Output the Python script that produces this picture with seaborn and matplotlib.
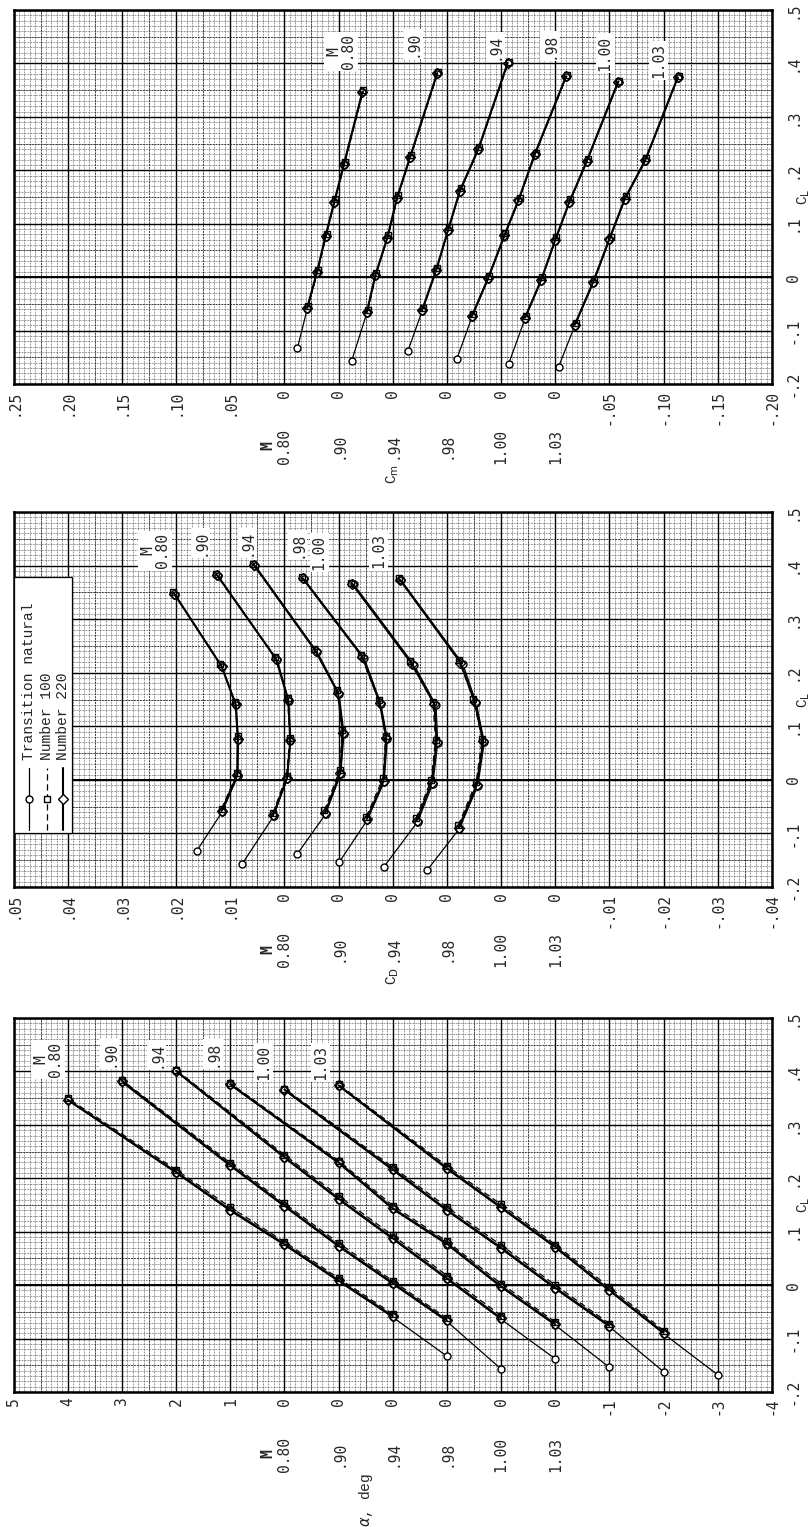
"""
Lift, drag and pitching-moment curves for six Mach numbers and three
transition-strip settings. The sheet is drawn turned on its side, the way
the scanned report page shows it: the value axes run across the page and
C_L runs up the page.
"""

import matplotlib
matplotlib.use("Agg")
import matplotlib.pyplot as plt
from matplotlib.patches import Rectangle
import pandas as pd
import seaborn as sns

MACH_LABELS = ["0.80", ".90", ".94", ".98", "1.00", "1.03"]
ALPHA_NATURAL = [-3, -2, -1, 0, 1, 2, 4]
ALPHA_FIXED = [-2, -1, 0, 1, 2, 4]

# C_L, one row per Mach number
CL_NATURAL = [
    [-0.133, -0.060, 0.007, 0.075, 0.139, 0.210, 0.346],
    [-0.157, -0.068, 0.002, 0.072, 0.147, 0.223, 0.380],
    [-0.138, -0.064, 0.011, 0.086, 0.160, 0.238, 0.400],
    [-0.154, -0.075, -0.004, 0.076, 0.142, 0.228, 0.375],
    [-0.162, -0.078, -0.007, 0.068, 0.139, 0.215, 0.365],
    [-0.168, -0.091, -0.011, 0.070, 0.144, 0.217, 0.373],
]
CL_100 = [
    [-0.054, 0.013, 0.081, 0.146, 0.216, 0.350],
    [-0.062, 0.008, 0.079, 0.153, 0.229, 0.384],
    [-0.057, 0.018, 0.093, 0.167, 0.244, 0.403],
    [-0.069, 0.003, 0.082, 0.149, 0.233, 0.378],
    [-0.072, 0.000, 0.075, 0.146, 0.221, 0.368],
    [-0.085, -0.004, 0.076, 0.151, 0.223, 0.376],
]
CL_220 = [
    [-0.058, 0.009, 0.077, 0.141, 0.212, 0.347],
    [-0.066, 0.004, 0.074, 0.149, 0.225, 0.382],
    [-0.062, 0.013, 0.088, 0.162, 0.240, 0.401],
    [-0.073, -0.002, 0.078, 0.144, 0.230, 0.376],
    [-0.076, -0.005, 0.070, 0.141, 0.217, 0.366],
    [-0.089, -0.009, 0.072, 0.146, 0.219, 0.374],
]

# C_D
CD_NATURAL = [
    [0.0162, 0.0115, 0.0086, 0.0085, 0.0089, 0.0115, 0.0202],
    [0.0178, 0.0120, 0.0095, 0.0089, 0.0092, 0.0113, 0.0222],
    [0.0176, 0.0124, 0.0096, 0.0090, 0.0099, 0.0139, 0.0254],
    [0.0199, 0.0147, 0.0116, 0.0110, 0.0122, 0.0153, 0.0264],
    [0.0216, 0.0154, 0.0126, 0.0117, 0.0120, 0.0161, 0.0272],
    [0.0236, 0.0177, 0.0143, 0.0131, 0.0146, 0.0171, 0.0285],
]
CD_100 = [
    [0.0116, 0.0087, 0.0086, 0.0091, 0.0118, 0.0205],
    [0.0121, 0.0096, 0.0090, 0.0094, 0.0117, 0.0226],
    [0.0126, 0.0098, 0.0093, 0.0103, 0.0145, 0.0258],
    [0.0149, 0.0118, 0.0113, 0.0126, 0.0159, 0.0268],
    [0.0157, 0.0129, 0.0121, 0.0126, 0.0168, 0.0277],
    [0.0179, 0.0146, 0.0135, 0.0151, 0.0178, 0.0289],
]
CD_220 = [
    [0.0116, 0.0087, 0.0086, 0.0090, 0.0116, 0.0203],
    [0.0121, 0.0095, 0.0089, 0.0093, 0.0115, 0.0224],
    [0.0125, 0.0097, 0.0092, 0.0101, 0.0142, 0.0256],
    [0.0148, 0.0117, 0.0112, 0.0124, 0.0156, 0.0266],
    [0.0156, 0.0128, 0.0119, 0.0123, 0.0165, 0.0275],
    [0.0178, 0.0145, 0.0133, 0.0149, 0.0175, 0.0287],
]

# C_m
CM_NATURAL = [
    [-0.012, -0.021, -0.030, -0.038, -0.046, -0.055, -0.072],
    [-0.012, -0.026, -0.034, -0.045, -0.054, -0.066, -0.091],
    [-0.014, -0.027, -0.040, -0.051, -0.062, -0.079, -0.106],
    [-0.009, -0.023, -0.038, -0.053, -0.066, -0.081, -0.110],
    [-0.007, -0.022, -0.037, -0.050, -0.063, -0.079, -0.108],
    [-0.003, -0.018, -0.035, -0.050, -0.064, -0.083, -0.113],
]
CM_100 = [
    [-0.022, -0.031, -0.039, -0.047, -0.056, -0.073],
    [-0.027, -0.035, -0.046, -0.055, -0.067, -0.092],
    [-0.028, -0.041, -0.052, -0.063, -0.080, -0.107],
    [-0.024, -0.039, -0.054, -0.067, -0.082, -0.111],
    [-0.023, -0.038, -0.051, -0.064, -0.080, -0.109],
    [-0.019, -0.036, -0.051, -0.065, -0.084, -0.114],
]
CM_220 = [
    [-0.021, -0.030, -0.038, -0.046, -0.055, -0.072],
    [-0.026, -0.034, -0.045, -0.054, -0.066, -0.091],
    [-0.027, -0.040, -0.051, -0.062, -0.079, -0.106],
    [-0.023, -0.038, -0.053, -0.066, -0.081, -0.110],
    [-0.022, -0.037, -0.050, -0.063, -0.079, -0.108],
    [-0.018, -0.035, -0.050, -0.064, -0.083, -0.113],
]

ALPHA_TICKS = ["5", "4", "3", "2", "1", "0", "0", "0", "0", "0", "0", "-1", "-2", "-3", "-4"]
CD_TICKS = [".05", ".04", ".03", ".02", ".01", "0", "0", "0", "0", "0", "0",
            "-.01", "-.02", "-.03", "-.04"]
CM_TICKS = [".25", ".20", ".15", ".10", ".05", "0", "0", "0", "0", "0", "0",
            "-.05", "-.10", "-.15", "-.20"]
CL_TICKS = [-0.2, -0.1, 0.0, 0.1, 0.2, 0.3, 0.4, 0.5]
CL_TICK_LABELS = ["-.2", "-.1", "0", ".1", ".2", ".3", ".4", ".5"]

NUM_FONT = "DejaVu Sans Mono"
TYPE_FONT = "Liberation Mono"
FS = 10.5

STYLES = {
    "natural": dict(marker="o", linestyle="-", linewidth=0.9, face="white"),
    "100": dict(marker="s", linestyle=(0, (5, 3)), linewidth=0.9, face="none"),
    "220": dict(marker="D", linestyle="-", linewidth=1.5, face="none"),
}


def long_table(value_sets, step):
    """Flatten the per-Mach lists into one table with offset plot coordinates."""
    rows = []
    for series, alphas, cls, vals in value_sets:
        for k in range(len(MACH_LABELS)):
            for i, a in enumerate(alphas):
                rows.append({"series": series, "mach": k, "alpha": a,
                             "cl": cls[k][i], "value": vals[k][i],
                             "x": vals[k][i] - k * step})
    return pd.DataFrame(rows)


def setup_axes(ax, step, tick_labels):
    ticks = [step * (5 - i) for i in range(15)]
    minor = [step * (5 - i / 10) for i in range(141)]
    ax.set_xlim(ticks[0], ticks[-1])
    ax.set_ylim(-0.2, 0.5)
    ax.set_xticks(ticks)
    ax.set_xticks(minor, minor=True)
    ax.set_xticklabels(tick_labels, family=NUM_FONT, fontsize=FS)
    ax.set_yticks(CL_TICKS)
    ax.set_yticks([-0.2 + i * 0.01 for i in range(71)], minor=True)
    ax.yaxis.tick_right()
    ax.set_yticklabels(CL_TICK_LABELS, family=NUM_FONT, fontsize=FS)
    ax.tick_params(axis="x", which="major", labelrotation=90, pad=4, length=0)
    ax.tick_params(axis="y", which="major", labelrotation=90, pad=10, length=0)
    ax.tick_params(which="minor", length=0)
    for lab in ax.get_yticklabels():
        lab.set_va("center")
    ax.grid(which="minor", color="0.2", linewidth=0.5, linestyle=(0, (1, 1.2)))
    ax.grid(which="major", color="black", linewidth=1.0)
    # half-unit lines of the graph paper
    for i in range(14):
        ax.axvline(step * (4.5 - i), color="0.15", linewidth=0.6,
                   linestyle=(0, (2, 1.5)), zorder=0.6)
    for i in range(7):
        ax.axhline(-0.15 + i * 0.1, color="0.15", linewidth=0.6,
                   linestyle=(0, (2, 1.5)), zorder=0.6)
    ax.set_axisbelow(True)
    ax.axhline(0, color="black", linewidth=1.4, zorder=1.5)
    for sp in ax.spines.values():
        sp.set_linewidth(1.8)
        sp.set_color("black")
    ax.text(1.042, 0.15, r"C$_\mathrm{L}$", transform=ax.get_yaxis_transform(),
            rotation=90, ha="center", va="center", family=TYPE_FONT, fontsize=FS)

    # Mach numbers under each zero line
    tr = ax.get_xaxis_transform()
    for k, lab in enumerate(MACH_LABELS):
        ax.text(-k * step, -0.166, lab, transform=tr, rotation=90, ha="center",
                va="center", family=NUM_FONT, fontsize=FS)
    ax.text(0.31 * step, -0.166, "M", transform=tr, rotation=90, ha="center",
            va="center", family=NUM_FONT, fontsize=FS, fontweight="bold")


def draw_curves(ax, df):
    for (series, k), sub in df.groupby(["series", "mach"], sort=False):
        st = STYLES[series]
        sns.lineplot(data=sub, x="x", y="cl", ax=ax, sort=False, estimator=None,
                     color="black", marker=st["marker"], linestyle=st["linestyle"],
                     linewidth=st["linewidth"], markersize=5,
                     markerfacecolor=st["face"], markeredgecolor="black",
                     markeredgewidth=1.0, zorder=3)
    ax.set_xlabel("")
    ax.set_ylabel("")


def inner_labels(ax, spots):
    for (fx, fy), lab in zip(spots, MACH_LABELS):
        text = "M\n" + lab if lab == "0.80" else lab
        ax.text(fx, fy, text, transform=ax.transAxes, rotation=90, ha="center",
                va="center", family=NUM_FONT, fontsize=FS, linespacing=1.0,
                multialignment="center", zorder=6,
                bbox=dict(fc="white", ec="none", pad=1.5))


def main():
    sns.set_style("white")
    plt.rcParams["font.family"] = ["DejaVu Sans"]
    plt.rcParams["mathtext.fontset"] = "dejavusans"

    fig = plt.figure(figsize=(8.11, 15.27), dpi=100)
    left, width = 13.5 / 811, 758.5 / 811
    ax_cm = fig.add_axes([left, 1 - 384 / 1527, width, 374 / 1527])
    ax_cd = fig.add_axes([left, 1 - 887 / 1527, width, 375 / 1527])
    ax_al = fig.add_axes([left, 1 - 1392 / 1527, width, 374 / 1527])

    # pitching moment
    setup_axes(ax_cm, 0.05, CM_TICKS)
    draw_curves(ax_cm, long_table([
        ("natural", ALPHA_NATURAL, CL_NATURAL, CM_NATURAL),
        ("100", ALPHA_FIXED, CL_100, CM_100),
        ("220", ALPHA_FIXED, CL_220, CM_220)], 0.05))
    inner_labels(ax_cm, [(0.432, 0.890), (0.527, 0.909), (0.635, 0.901),
                         (0.707, 0.904), (0.780, 0.885), (0.850, 0.866)])
    ax_cm.text(-2 * 0.05, -0.215, r"C$_\mathrm{m}$", transform=ax_cm.get_xaxis_transform(),
               rotation=90, ha="center", va="top", family=TYPE_FONT, fontsize=FS)

    # drag
    setup_axes(ax_cd, 0.01, CD_TICKS)
    draw_curves(ax_cd, long_table([
        ("natural", ALPHA_NATURAL, CL_NATURAL, CD_NATURAL),
        ("100", ALPHA_FIXED, CL_100, CD_100),
        ("220", ALPHA_FIXED, CL_220, CD_220)], 0.01))
    inner_labels(ax_cd, [(0.187, 0.896), (0.247, 0.917), (0.308, 0.917),
                         (0.375, 0.912), (0.403, 0.893), (0.481, 0.896)])
    ax_cd.text(-2 * 0.01, -0.213, r"C$_\mathrm{D}$", transform=ax_cd.get_xaxis_transform(),
               rotation=90, ha="center", va="top", family=TYPE_FONT, fontsize=FS)

    # legend box, drawn turned like the rest of the sheet
    ax_cd.add_patch(Rectangle((0.0, 0.144), 0.077, 0.683, transform=ax_cd.transAxes,
                              fc="white", ec="black", lw=0.9, zorder=5))
    legend_rows = [("natural", "Transition natural", 0.0208),
                   ("100", "Number 100", 0.0438),
                   ("220", "Number 220", 0.0657)]
    for series, text, fx in legend_rows:
        st = STYLES[series]
        ax_cd.plot([fx, fx], [0.152, 0.317], transform=ax_cd.transAxes, color="black",
                   linestyle=st["linestyle"], linewidth=st["linewidth"], zorder=6)
        ax_cd.plot([fx], [0.235], transform=ax_cd.transAxes, marker=st["marker"],
                   markersize=5, mfc="white", mec="black", mew=1.0, zorder=7)
        ax_cd.text(fx, 0.339, text, transform=ax_cd.transAxes, rotation=90,
                   ha="center", va="bottom", family=TYPE_FONT, fontsize=FS, zorder=7)

    # angle of attack
    setup_axes(ax_al, 1.0, ALPHA_TICKS)
    draw_curves(ax_al, long_table([
        ("natural", ALPHA_NATURAL, CL_NATURAL, [[float(a) for a in ALPHA_NATURAL]] * 6),
        ("100", ALPHA_FIXED, CL_100, [[float(a) for a in ALPHA_FIXED]] * 6),
        ("220", ALPHA_FIXED, CL_220, [[float(a) for a in ALPHA_FIXED]] * 6)], 1.0))
    inner_labels(ax_al, [(0.0455, 0.888), (0.127, 0.904), (0.189, 0.901),
                         (0.263, 0.904), (0.330, 0.882), (0.405, 0.882)])
    ax_al.text(-1.5, -0.215, r"$\alpha$, deg", transform=ax_al.get_xaxis_transform(),
               rotation=90, ha="center", va="top", family=TYPE_FONT, fontsize=FS)

    fig.savefig("out.png", dpi=100)
    plt.close(fig)


if __name__ == "__main__":
    main()
